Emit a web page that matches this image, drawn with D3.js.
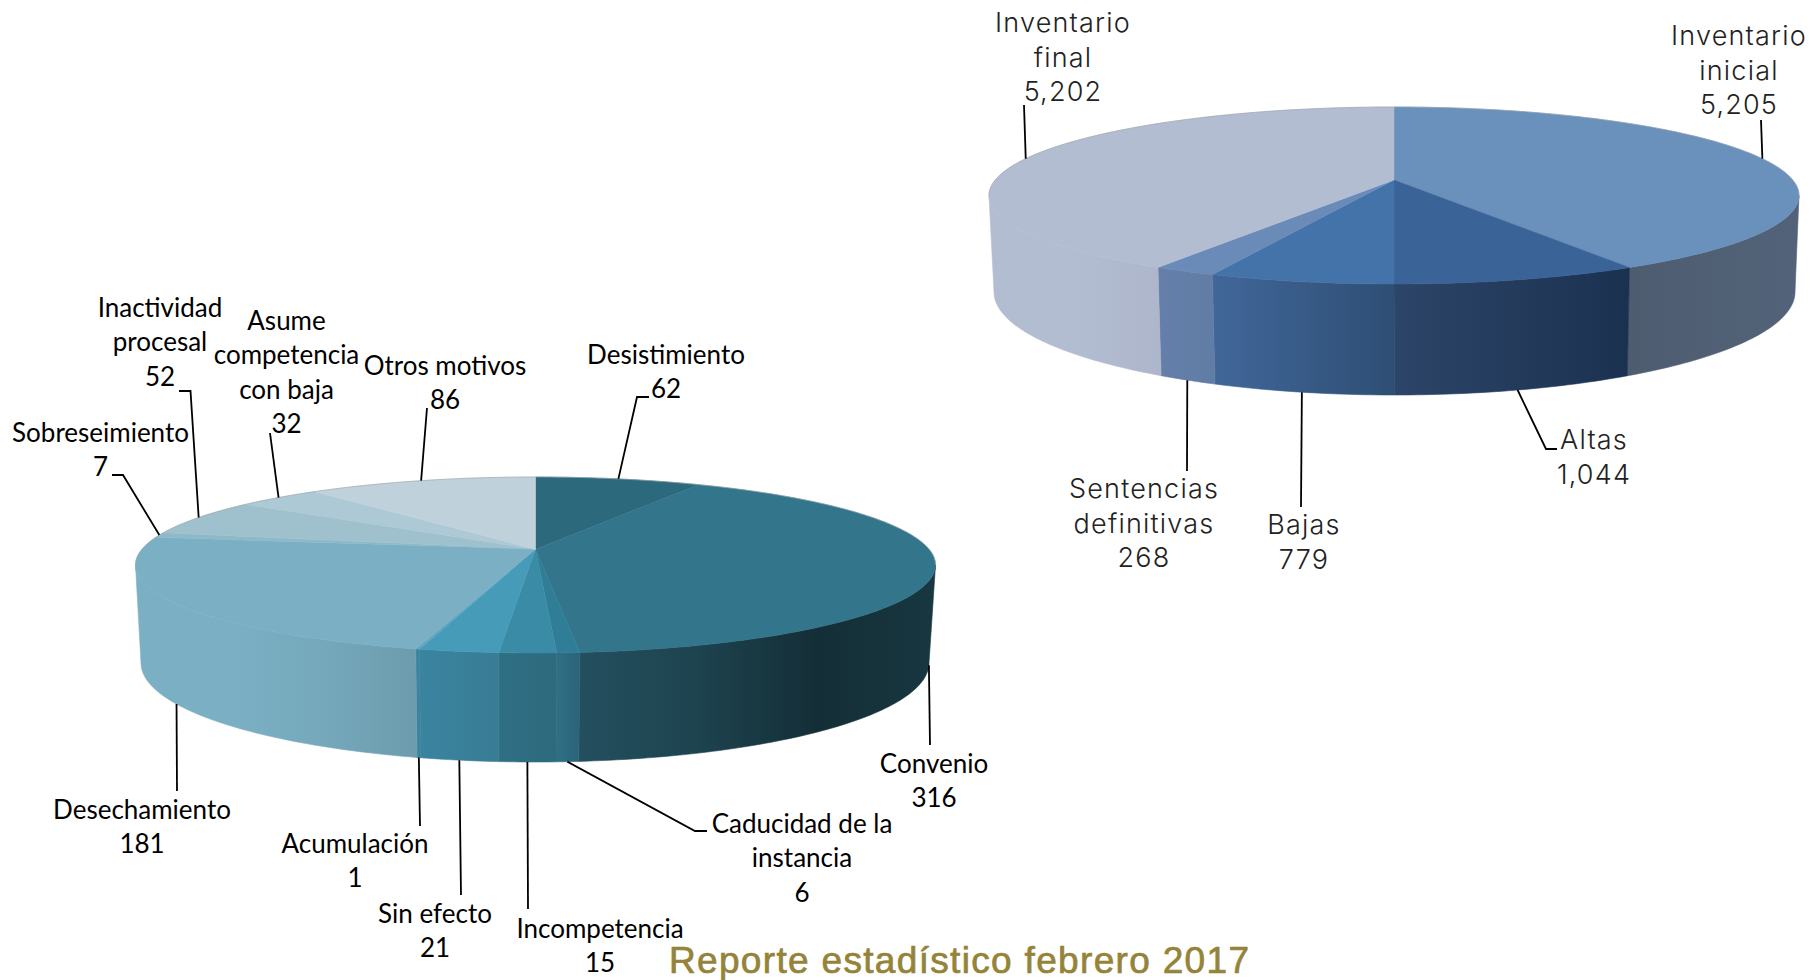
<!DOCTYPE html>
<html>
<head>
<meta charset="utf-8">
<script src="https://cdn.jsdelivr.net/npm/d3@7"></script>
<style>
  html, body { margin: 0; padding: 0; background: #fff; }
  svg { display: block; }
</style>
</head>
<body>
<div class="chart"></div>
<script>
// Left pie data (clockwise from the top)
const motivos = [
    ["Desistimiento"], ["Convenio"], ["Caducidad de la", "instancia"], ["Incompetencia"],
    ["Sin efecto"], ["Acumulación"], ["Desechamiento"], ["Sobreseimiento"],
    ["Inactividad", "procesal"], ["Asume", "competencia", "con baja"], ["Otros motivos"]
]
const motivosValues = [62, 316, 6, 15, 21, 1, 181, 7, 52, 32, 86]

// Right pie data
const inventario = [
    ["Inventario", "inicial"], ["Altas"], ["Bajas"], ["Sentencias", "definitivas"], ["Inventario", "final"]
]
const inventarioValues = [5205, 1044, 779, 268, 5202]

// Colors
const motivosTop = ["#2c697d", "#33758b", "#2f7d96", "#3a8ba6", "#469bb8", "#5fa5be",
    "#7bb0c4", "#8db9c9", "#9fc0cd", "#adc9d5", "#bfd2dc"]
const motivosWall = [
    ["#1d4654", "#1d4654"], ["#244f5e", "#1d434f", "#142e37", "#183740"], ["#2f6f85", "#2b6478"], ["#2f6f84", "#2e6a7e"],
    ["#3a84a0", "#397c94"], ["#3a84a0", "#3a84a0"], ["#7bb0c4", "#7bb0c4", "#75a8bb", "#6c9cae"], ["#8db9c9", "#8db9c9"],
    ["#9fc0cd", "#9fc0cd"], ["#adc9d5", "#adc9d5"], ["#bfd2dc", "#bfd2dc"]
]
const inventarioTop = ["#6a91bc", "#3a6397", "#4473a9", "#6a8ab8", "#b3bdd2"]
const inventarioWall = [
    ["#4e5c70", "#526379"], ["#2c4568", "#1b3150"], ["#41679a", "#2e4e74"],
    ["#647fa9", "#617ca5"], ["#b3bdd2", "#b3bdd2", "#adb6ca"]
]

// Layout: pies in perspective (top + bottom ellipse, beta shifts the pie center up)
const left = {
    top: { cx: 535.5, cy: 565, rx: 400, ry: 88 },
    bottom: { cx: 535, cy: 663, rx: 394, ry: 99 },
    beta: -0.18
}
const right = {
    top: { cx: 1394, cy: 195.5, rx: 405, ry: 88.5 },
    bottom: { cx: 1394.5, cy: 292, rx: 400.5, ry: 103 },
    beta: -0.175
}

// label center x, first baseline y
const motivosLabelPos = [[666, 364], [934, 773], [802, 833], [600, 938], [435, 923], [355, 853],
    [142, 819], [100.5, 442], [160, 317], [286.5, 330], [445, 375]]
// leader points after the pie edge
const motivosLeaders = [
    [[637, 397], [649, 397]], [[930, 745]], [[695, 831], [707, 831]], [[528, 909]],
    [[461, 895]], [[420, 826]], [[177, 791]], [[123, 475], [112, 475]],
    [[190.5, 391], [179, 391]], [[270, 433]], [[427, 408]]
]
const inventarioLabelPos = [[1739, 45], [1594, 449], [1304, 534], [1144, 498], [1063, 32]]
const inventarioLeaders = [
    [[1761, 120]], [[1546, 449], [1557, 449]], [[1301, 507]], [[1187, 471]], [[1024, 105]]
]

const width = 1810
const height = 980
const svg = d3.select(".chart").append("svg")
    .attr("width", width)
    .attr("height", height)
    .attr("viewBox", [0, 0, width, height])
const defs = svg.append("defs")

const lineGen = d3.line()

// circle angle -> point on the projected ellipse
function project(theta, e, beta) {
    const u = Math.sin(theta)
    const w = -Math.cos(theta)
    const d = 1 + beta * w
    return [
        e.cx + e.rx * u * Math.sqrt(1 - beta * beta) / d,
        e.cy + e.ry * (w + beta) / d
    ]
}

function samples(a0, a1) {
    const n = Math.max(2, Math.ceil((a1 - a0) * 60))
    return d3.range(n + 1).map(i => a0 + (a1 - a0) * i / n)
}

function drawPie(id, geo, names, values, topColors, wallColors, labelPos, leaders, font) {
    const g = svg.append("g").attr("class", id)
    const arcs = d3.pie().sort(null).startAngle(0).endAngle(2 * Math.PI)(values)

    // walls only exist between the two silhouette angles
    const minA = Math.acos(geo.beta)
    const maxA = 2 * Math.PI - minA

    arcs.forEach((d, i) => {
        const a0 = Math.max(d.startAngle, minA)
        const a1 = Math.min(d.endAngle, maxA)
        if (a1 <= a0) return
        const ts = samples(a0, a1)
        const upper = ts.map(t => project(t, geo.top, geo.beta))
        const lower = ts.map(t => project(t, geo.bottom, geo.beta)).reverse()
        const gradId = id + "-wall-" + i
        const grad = defs.append("linearGradient")
            .attr("id", gradId)
            .attr("gradientUnits", "userSpaceOnUse")
            .attr("x1", d3.min(upper, p => p[0])).attr("x2", d3.max(upper, p => p[0]))
            .attr("y1", 0).attr("y2", 0)
        wallColors[i].forEach((c, k, all) => {
            grad.append("stop").attr("offset", k / (all.length - 1)).attr("stop-color", c)
        })
        g.append("path")
            .attr("d", lineGen(upper.concat(lower)) + "Z")
            .attr("fill", `url(#${gradId})`)
            .attr("stroke", `url(#${gradId})`)
            .attr("stroke-width", 0.6)
    })

    // top face
    const apex = [geo.top.cx, geo.top.cy + geo.top.ry * geo.beta]
    arcs.forEach((d, i) => {
        const rim = samples(d.startAngle, d.endAngle).map(t => project(t, geo.top, geo.beta))
        g.append("path")
            .attr("d", lineGen([apex].concat(rim)) + "Z")
            .attr("fill", topColors[i])
            .attr("stroke", topColors[i])
            .attr("stroke-width", 0.5)
    })

    // back rim, thin grey highlight
    g.append("path")
        .attr("d", lineGen(samples(maxA, 2 * Math.PI + minA).map(t => project(t, geo.top, geo.beta))))
        .attr("fill", "none")
        .attr("stroke", "#9aa3a8")
        .attr("stroke-opacity", 0.6)
        .attr("stroke-width", 1)

    // leaders start at the mid angle of each slice
    arcs.forEach((d, i) => {
        const mid = (d.startAngle + d.endAngle) / 2
        const front = mid > minA && mid < maxA
        const start = project(mid, front ? geo.bottom : geo.top, geo.beta)
        g.append("path")
            .attr("d", lineGen([start].concat(leaders[i])))
            .attr("fill", "none")
            .attr("stroke", "#000")
            .attr("stroke-width", 1.8)
    })

    // labels
    const text = g.selectAll("text.label")
        .data(arcs)
        .join("text")
        .attr("class", "label")
        .attr("text-anchor", "middle")
        .attr("font-family", font.family)
        .attr("font-size", font.size)
        .attr("font-weight", font.weight)
        .attr("letter-spacing", font.spacing)
        .attr("fill", font.color)
    text.each(function(d, i) {
        const lines = names[i].concat([d3.format(",")(d.value)])
        d3.select(this).selectAll("tspan")
            .data(lines)
            .join("tspan")
            .attr("x", labelPos[i][0])
            .attr("y", (l, k) => labelPos[i][1] + k * font.lineHeight)
            .text(l => l)
    })
}

drawPie("motivos", left, motivos, motivosValues, motivosTop, motivosWall,
    motivosLabelPos, motivosLeaders,
    { family: "Lato", size: 26, weight: 400, spacing: 0, color: "#000", lineHeight: 34.3 })

drawPie("inventario", right, inventario, inventarioValues, inventarioTop, inventarioWall,
    inventarioLabelPos, inventarioLeaders,
    { family: "Inter", size: 27, weight: 300, spacing: 1.2, color: "#222", lineHeight: 34.7 })

// Footer
svg.append("text")
    .attr("x", 669)
    .attr("y", 973)
    .attr("font-family", "Liberation Sans")
    .attr("font-size", 37)
    .attr("fill", "#948338")
    .attr("stroke", "#948338")
    .attr("stroke-width", 0.7)
    .attr("textLength", 580)
    .text("Reporte estadístico febrero 2017")
</script>
</body>
</html>
